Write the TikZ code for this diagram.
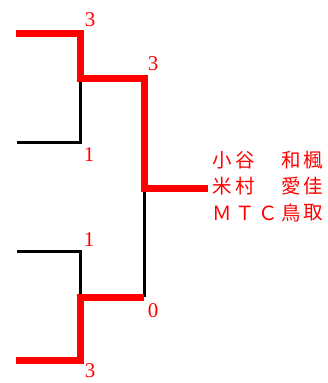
\documentclass[tikz,border=0pt]{standalone}
\usepackage{fontspec}
\setmainfont{Liberation Serif}
\newfontfamily\cjk{Noto Sans CJK JP}
\tikzstyle{win} = [red, line width=7, line join=miter]
\tikzstyle{lose} = [black, line width=3]
\tikzstyle{score} = [red, inner sep=0, font=\fontsize{21}{21}\selectfont]
\tikzstyle{player} = [red, inner sep=0, font=\cjk\fontsize{19.5}{19.5}\selectfont]
\newcommand{\nameline}[3]{
\foreach \c [count=\k] in {#3} {
\node[player] (#1\k) at ({222.5+(\k-1)*22.8}, #2) {\c};
}
}

\begin{document}
\begin{tikzpicture}[x=1pt, y=-1pt]
		\useasboundingbox (0,0) rectangle (328,383);

		% Coordinates
		\coordinate (A) at (16,33);
		\coordinate (B) at (17,142);
		\coordinate (C) at (17,251);
		\coordinate (D) at (16,360);
		\coordinate (AB) at (80,78);
		\coordinate (CD) at (80,297);
		\coordinate (F) at (144,188);
		\coordinate (W) at (208,188);

		% Losers
		\draw[lose] (B) -| (AB);
		\draw[lose] (C) -| (CD);
		\draw[lose] (CD -| F) -- (F);

		% Winners
		\draw[win] (A) -| (AB) -- (AB -| F) -- (F) -- (W);
		\draw[win] (D) -| (CD) -- (CD -| F);

		% Scores
		\node[score] (sA) at (90,20) {3};
		\node[score] (sB) at (89,155) {1};
		\node[score] (sC) at (89,240) {1};
		\node[score] (sD) at (90,371) {3};
		\node[score] (sAB) at (153,64) {3};
		\node[score] (sCD) at (153,311) {0};

		% Names
		\nameline{p}{160}{小,谷,　,和,楓}
		\nameline{q}{186}{米,村,　,愛,佳}
		\nameline{t}{213}{Ｍ,Ｔ,Ｃ,鳥,取}
	\end{tikzpicture}
\end{document}
